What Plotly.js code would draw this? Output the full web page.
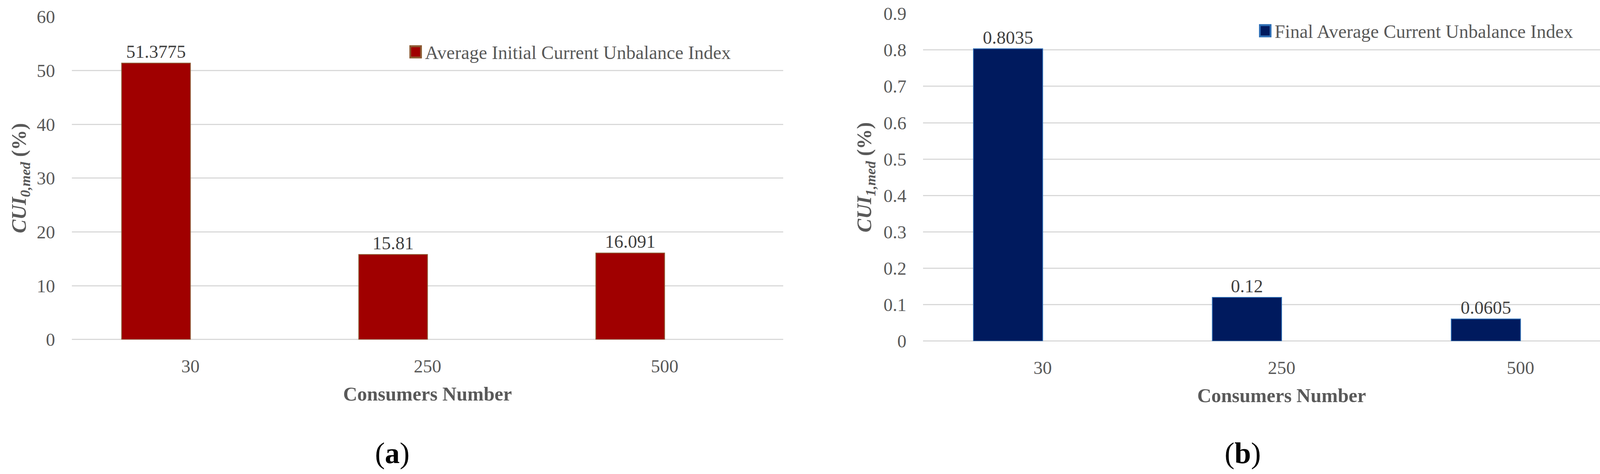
<!DOCTYPE html>
<html>
<head>
<meta charset="utf-8">
<script src="https://cdn.plot.ly/plotly-3.0.1.min.js"></script>
<style>
  html, body { margin: 0; padding: 0; background: #ffffff; }
  #chart { width: 4219px; height: 1213px; }
</style>
</head>
<body>
<div id="chart"></div>
<script>
// categories (consumers number)
var consumers = ['30', '250', '500'];

// (a) average initial current unbalance index, %
var initialCUI = [51.3775, 15.81, 16.091];
// (b) final average current unbalance index, %
var finalCUI = [0.8035, 0.12, 0.0605];

var nameInitial = 'Average Initial Current Unbalance Index';
var nameFinal = 'Final Average Current Unbalance Index';

var serif = 'Liberation Serif, Times New Roman, serif';
var grey = '#595959';

// bars sit to the left of the category tick, like the Excel original
var barInitial = {
    type: 'bar',
    x: consumers,
    y: initialCUI,
    name: nameInitial,
    width: 0.29,
    offset: -0.29,
    marker: { color: '#A00000', line: { color: '#8C5A32', width: 2 } },
    text: initialCUI.map(String),
    textposition: 'outside',
    textfont: { family: serif, size: 47, color: '#404040' },
    cliponaxis: false,
    xaxis: 'x',
    yaxis: 'y',
    legend: 'legend',
    hoverinfo: 'x+y'
};

var barFinal = {
    type: 'bar',
    x: consumers,
    y: finalCUI,
    name: nameFinal,
    width: 0.29,
    offset: -0.29,
    marker: { color: '#001A5E', line: { color: '#2E6EB5', width: 2 } },
    text: finalCUI.map(String),
    textposition: 'outside',
    textfont: { family: serif, size: 47, color: '#404040' },
    cliponaxis: false,
    xaxis: 'x2',
    yaxis: 'y2',
    legend: 'legend2',
    hoverinfo: 'x+y'
};

// shared axis look
function catAxis(domain, anchor) {
    return {
        domain: domain,
        anchor: anchor,
        type: 'category',
        showgrid: false,
        showline: false,
        zeroline: false,
        ticks: '',
        ticklabelstandoff: 36,
        tickfont: { family: serif, size: 47, color: grey },
        title: {
            text: '<b>Consumers Number</b>',
            font: { family: serif, size: 50, color: grey },
            standoff: 28
        },
        automargin: false
    };
}

function valAxis(domain, anchor, range, dtick, sub, standoff) {
    return {
        domain: domain,
        anchor: anchor,
        range: range,
        dtick: dtick,
        showgrid: true,
        gridcolor: '#D9D9D9',
        gridwidth: 3,
        zeroline: true,
        zerolinecolor: '#D9D9D9',
        zerolinewidth: 3,
        showline: false,
        ticks: '',
        ticklabelstandoff: 42,
        tickfont: { family: serif, size: 47, color: grey },
        title: {
            text: '<b><i>CUI</i></b><sub><b><i>' + sub + '</i></b></sub><b> (%)</b>',
            font: { family: serif, size: 52, color: grey },
            standoff: standoff
        },
        automargin: false
    };
}

var layout = {
    width: 4219,
    height: 1213,
    margin: { l: 0, r: 0, t: 0, b: 0, pad: 0 },
    paper_bgcolor: '#ffffff',
    plot_bgcolor: '#ffffff',
    font: { family: serif, color: grey },
    bargap: 0,
    xaxis: catAxis([0.0436, 0.4752], 'y'),
    yaxis: valAxis([0.2836, 0.9648], 'x', [0, 60], 10, '0,med', 10),
    xaxis2: catAxis([0.5602, 0.9951], 'y2'),
    yaxis2: valAxis([0.2806, 0.9713], 'x2', [0, 0.9], 0.1, '1,med', 14),
    legend: {
        x: 0.2484, y: 0.8904, xanchor: 'left', yanchor: 'middle',
        bgcolor: 'rgba(0,0,0,0)',
        font: { family: serif, size: 48, color: grey }
    },
    legend2: {
        x: 0.7639, y: 0.9349, xanchor: 'left', yanchor: 'middle',
        bgcolor: 'rgba(0,0,0,0)',
        font: { family: serif, size: 48, color: grey }
    },
    showlegend: true,
    annotations: [
        {
            text: '(<b>a</b>)', xref: 'paper', yref: 'paper',
            x: 0.238, y: 0.0437, xanchor: 'center', yanchor: 'middle',
            showarrow: false, font: { family: serif, size: 76, color: '#000000' }
        },
        {
            text: '(<b>b</b>)', xref: 'paper', yref: 'paper',
            x: 0.754, y: 0.0437, xanchor: 'center', yanchor: 'middle',
            showarrow: false, font: { family: serif, size: 76, color: '#000000' }
        }
    ]
};

Plotly.newPlot('chart', [barInitial, barFinal], layout, { displayModeBar: false, staticPlot: true })
    .then(function (gd) {
        // legend swatches are a fixed 12px square, the original has bigger ones
        var swatches = gd.querySelectorAll('.legendpoints path');
        for (var i = 0; i < swatches.length; i++) {
            swatches[i].setAttribute('transform', 'translate(16,0) scale(2.3,2.4)');
        }
    });
</script>
</body>
</html>
